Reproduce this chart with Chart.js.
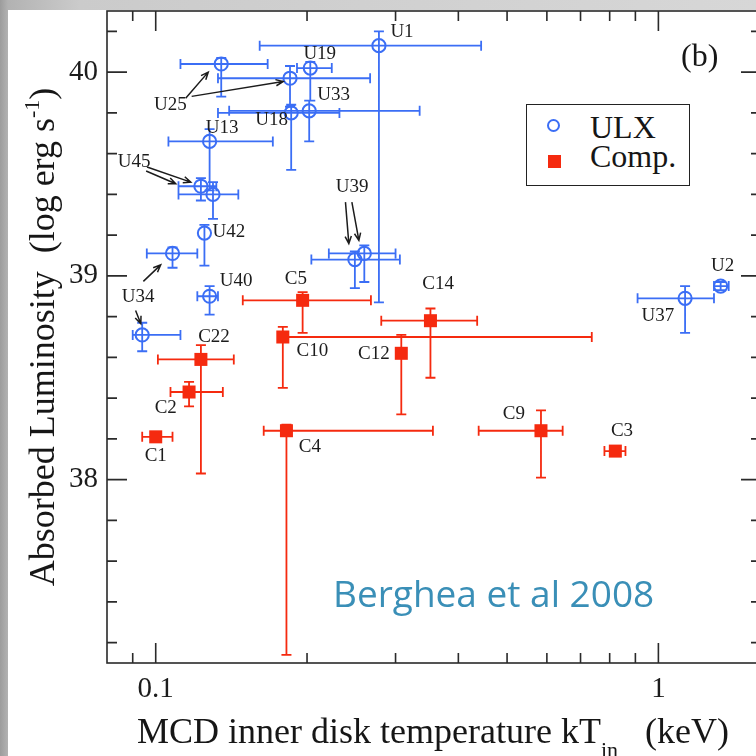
<!DOCTYPE html>
<html>
<head>
<meta charset="utf-8">
<script src="https://cdn.jsdelivr.net/npm/chart.js@4"></script>
<style>
html, body { margin:0; padding:0; width:756px; height:756px; overflow:hidden; }
body { position:relative; background:linear-gradient(90deg,#9c9c9c 0px,#b2b2b2 8px,#cbcbcb 80px,#d7d7d7 100%);
       font-family:"Liberation Serif","Times New Roman",serif; color:#161616; }
#paper { position:absolute; left:8px; top:10px; right:0; bottom:0; background:#fff; }
#wrap { position:absolute; left:0; top:0; width:780px; height:756px; }
.abs { position:absolute; white-space:nowrap; }
#ytitle { left:-258px; top:315px; width:600px; height:44px; line-height:44px; text-align:center;
          font-size:36px; transform:rotate(-90deg); }
#xtitle { left:137px; top:713px; line-height:36px; font-size:36px; }
#panel { left:681px; top:39px; line-height:32px; font-size:32px; }
#legend { left:526px; top:104px; width:164px; height:82px; box-sizing:border-box; border:1.5px solid #222; background:#fff; }
#legend .ring { position:absolute; left:20px; top:14px; width:13px; height:13px; box-sizing:border-box;
                border:2px solid #3b6ef5; border-radius:50%; }
#legend .sq { position:absolute; left:21px; top:50px; width:13px; height:13px; background:#f52a0f; }
#legend .t { position:absolute; left:63px; font-size:32px; line-height:32px; }
#cite { left:333px; top:573px; font-family:"Open Sans",sans-serif; font-size:37px; line-height:40px; color:#3a8fb7; }
</style>
</head>
<body>
<div id="paper"></div>
<div id="wrap"><canvas id="chart" width="780" height="756"></canvas></div>
<div id="ytitle" class="abs">Absorbed Luminosity&nbsp; (log erg s<span style="font-size:22px;position:relative;top:-15px">-1</span>)</div>
<div id="xtitle" class="abs">MCD inner disk temperature kT<span style="font-size:22px;position:relative;top:14px">in</span>&nbsp;&nbsp; (keV)</div>
<div id="panel" class="abs">(b)</div>
<div id="legend" class="abs">
  <span class="ring"></span><span class="t" style="top:6px">ULX</span>
  <span class="sq"></span><span class="t" style="top:35px">Comp.</span>
</div>
<div id="cite" class="abs">Berghea et al 2008</div>
<script>
// ULX sources: kT_in (keV) and log L with error limits
const ulxNames = ['U1','U19','U25a','U25b','U33','U18','U13','U45a','U45b','U42','U34a','U40','U34b','U39a','U39b','U37','U2'];
const ulxX   = [0.278, 0.203, 0.135, 0.185, 0.202, 0.186, 0.128, 0.123, 0.130, 0.125, 0.108, 0.128, 0.094, 0.249, 0.260, 1.13, 1.33];
const ulxXLo = [0.161, 0.191, 0.112, 0.133, 0.140, 0.133, 0.106, 0.111, 0.111, 0.125, 0.096, 0.121, 0.090, 0.204, 0.221, 0.909, 1.29];
const ulxXHi = [0.444, 0.224, 0.167, 0.267, 0.335, 0.232, 0.171, 0.132, 0.146, 0.125, 0.121, 0.133, 0.112, 0.306, 0.300, 1.29, 1.38];
const ulxY   = [40.13, 40.02, 40.04, 39.97, 39.81, 39.80, 39.66, 39.44, 39.40, 39.21, 39.11, 38.90, 38.71, 39.08, 39.11, 38.89, 38.95];
const ulxYLo = [38.87, 39.86, 39.88, 39.83, 39.66, 39.52, 39.42, 39.37, 39.28, 39.05, 39.04, 38.81, 38.63, 38.94, 38.97, 38.72, 38.93];
const ulxYHi = [40.20, 40.05, 40.07, 40.03, 39.86, 39.84, 39.72, 39.48, 39.46, 39.25, 39.14, 38.95, 38.77, 39.12, 39.15, 38.95, 38.97];

// comparison sources
const compNames = ['C1','C2','C22','C5','C10','C12','C14','C4','C9','C3'];
const compX   = [0.100, 0.1165, 0.123, 0.196, 0.179, 0.308, 0.352, 0.182, 0.584, 0.821];
const compXLo = [0.094, 0.107, 0.101, 0.149, 0.176, 0.308, 0.281, 0.164, 0.439, 0.781];
const compXHi = [0.108, 0.136, 0.143, 0.268, 0.737, 0.308, 0.436, 0.356, 0.645, 0.860];
const compY   = [38.21, 38.43, 38.59, 38.88, 38.70, 38.62, 38.78, 38.24, 38.24, 38.14];
const compYLo = [38.21, 38.36, 38.03, 38.72, 38.45, 38.32, 38.50, 37.14, 38.01, 38.12];
const compYHi = [38.21, 38.48, 38.66, 38.92, 38.75, 38.71, 38.84, 38.27, 38.34, 38.16];

// axes
const xTickLabels = [0.1, 1];
const xMinorTicks = [0.09, 0.2, 0.3, 0.4, 0.5, 0.6, 0.7, 0.8, 0.9];
const yTickLabels = [38, 39, 40];
const yMinorTicks = [37.2, 37.4, 37.6, 37.8, 38.2, 38.4, 38.6, 38.8, 39.2, 39.4, 39.6, 39.8, 40.2];

// source labels, placed in data units
const labelText = ['U1','U19','U25','U33','U18','U13','U45','U42','U34','U40','U39','U37','U2',
                   'C5','C10','C12','C14','C4','C9','C3','C22','C2','C1'];
const labelX = [0.309, 0.212, 0.107, 0.226, 0.170, 0.1356, 0.0906, 0.1398, 0.0923, 0.1446, 0.246, 0.998, 1.342,
                0.190, 0.205, 0.2716, 0.3646, 0.2026, 0.5157, 0.8464, 0.1306, 0.1047, 0.100];
const labelY = [40.195, 40.09, 39.84, 39.886, 39.763, 39.725, 39.558, 39.215, 38.895, 38.977, 39.435, 38.801, 39.046,
                38.986, 38.63, 38.618, 38.958, 38.159, 38.323, 38.241, 38.699, 38.352, 38.118];

// arrows from labels to sources
const arrowFromX = [0.1147, 0.1179, 0.0961, 0.0957, 0.0945, 0.0912, 0.2385, 0.2456];
const arrowFromY = [39.872, 39.881, 39.534, 39.515, 38.973, 38.830, 39.362, 39.362];
const arrowToX   = [0.1272, 0.1793, 0.1174, 0.1096, 0.1023, 0.0934, 0.2422, 0.2536];
const arrowToY   = [40.000, 39.954, 39.460, 39.452, 39.054, 38.765, 39.158, 39.174];

const BLUE = '#3b6ef5', RED = '#f52a0f', INK = '#1c1c1c';

const errorBars = {
  id: 'errorBars',
  beforeDatasetsDraw(chart) {
    const { ctx, scales: { x, y } } = chart;
    const cap = 5;
    chart.data.datasets.forEach(ds => {
      const e = ds.errors;
      ctx.save();
      ctx.strokeStyle = ds.borderColor;
      ctx.lineWidth = 1.8;
      ctx.beginPath();
      ds.data.forEach((p, i) => {
        const px = x.getPixelForValue(p.x), py = y.getPixelForValue(p.y);
        const x0 = x.getPixelForValue(e.xLo[i]), x1 = x.getPixelForValue(e.xHi[i]);
        const y0 = y.getPixelForValue(e.yLo[i]), y1 = y.getPixelForValue(e.yHi[i]);
        if (Math.abs(px - x0) > 0.5) { ctx.moveTo(x0, py); ctx.lineTo(px, py); ctx.moveTo(x0, py - cap); ctx.lineTo(x0, py + cap); }
        if (Math.abs(x1 - px) > 0.5) { ctx.moveTo(px, py); ctx.lineTo(x1, py); ctx.moveTo(x1, py - cap); ctx.lineTo(x1, py + cap); }
        if (Math.abs(y0 - py) > 0.5) { ctx.moveTo(px, py); ctx.lineTo(px, y0); ctx.moveTo(px - cap, y0); ctx.lineTo(px + cap, y0); }
        if (Math.abs(py - y1) > 0.5) { ctx.moveTo(px, py); ctx.lineTo(px, y1); ctx.moveTo(px - cap, y1); ctx.lineTo(px + cap, y1); }
      });
      ctx.stroke();
      ctx.restore();
    });
  }
};

const frameAndNotes = {
  id: 'frameAndNotes',
  afterDraw(chart) {
    const { ctx, chartArea: a, scales: { x, y } } = chart;
    ctx.save();
    ctx.strokeStyle = '#2a2a2a';
    ctx.lineWidth = 1.6;
    ctx.strokeRect(a.left, a.top, a.right - a.left, a.bottom - a.top);
    ctx.beginPath();
    const tickY = (v, len) => { const py = y.getPixelForValue(v);
      ctx.moveTo(a.left, py); ctx.lineTo(a.left + len, py); ctx.moveTo(a.right, py); ctx.lineTo(a.right - len, py); };
    const tickX = (v, len) => { const px = x.getPixelForValue(v);
      ctx.moveTo(px, a.bottom); ctx.lineTo(px, a.bottom - len); ctx.moveTo(px, a.top); ctx.lineTo(px, a.top + len); };
    yTickLabels.forEach(v => tickY(v, 20));
    yMinorTicks.forEach(v => tickY(v, 10));
    xTickLabels.forEach(v => tickX(v, 20));
    xMinorTicks.forEach(v => tickX(v, 10));
    ctx.stroke();

    // arrows
    ctx.strokeStyle = INK;
    ctx.lineWidth = 1.5;
    arrowFromX.forEach((fx, i) => {
      const x0 = x.getPixelForValue(fx), y0 = y.getPixelForValue(arrowFromY[i]);
      const x1 = x.getPixelForValue(arrowToX[i]), y1 = y.getPixelForValue(arrowToY[i]);
      const ang = Math.atan2(y1 - y0, x1 - x0), h = 8;
      ctx.beginPath();
      ctx.moveTo(x0, y0); ctx.lineTo(x1, y1);
      ctx.moveTo(x1 - h * Math.cos(ang - 0.4), y1 - h * Math.sin(ang - 0.4));
      ctx.lineTo(x1, y1);
      ctx.lineTo(x1 - h * Math.cos(ang + 0.4), y1 - h * Math.sin(ang + 0.4));
      ctx.stroke();
    });

    // source names
    ctx.fillStyle = INK;
    ctx.font = '19px "Liberation Serif", serif';
    ctx.textAlign = 'center';
    ctx.textBaseline = 'middle';
    labelText.forEach((t, i) => ctx.fillText(t, x.getPixelForValue(labelX[i]), y.getPixelForValue(labelY[i])));
    ctx.restore();
  }
};

const pts = (xs, ys) => xs.map((v, i) => ({ x: v, y: ys[i] }));

new Chart(document.getElementById('chart'), {
  type: 'scatter',
  data: {
    datasets: [
      { label: 'ULX', data: pts(ulxX, ulxY), pointStyle: 'circle', pointRadius: 6.6,
        borderColor: BLUE, backgroundColor: 'rgba(0,0,0,0)', borderWidth: 2,
        errors: { xLo: ulxXLo, xHi: ulxXHi, yLo: ulxYLo, yHi: ulxYHi } },
      { label: 'Comp.', data: pts(compX, compY), pointStyle: 'rect', pointRadius: 9.2,
        borderColor: RED, backgroundColor: RED, borderWidth: 0,
        errors: { xLo: compXLo, xHi: compXHi, yLo: compYLo, yHi: compYHi } }
    ]
  },
  options: {
    responsive: false,
    devicePixelRatio: 1,
    animation: false,
    events: [],
    layout: { padding: { top: 11, right: 19, left: 0, bottom: 0 } },
    plugins: { legend: { display: false }, tooltip: { enabled: false } },
    scales: {
      x: {
        type: 'logarithmic', min: 0.08, max: 1.6,
        grid: { display: false, drawTicks: false },
        border: { display: false },
        afterBuildTicks: s => { s.ticks = xTickLabels.map(v => ({ value: v })); },
        afterFit: s => { s.height = 93; s.paddingLeft = 0; s.paddingRight = 0; },
        ticks: { autoSkip: false, maxRotation: 0, padding: 9, color: INK,
                 font: { family: '"Liberation Serif", serif', size: 29 },
                 callback: v => String(v) }
      },
      y: {
        min: 37.1, max: 40.3,
        grid: { display: false, drawTicks: false },
        border: { display: false },
        afterBuildTicks: s => { s.ticks = yTickLabels.map(v => ({ value: v })); },
        afterFit: s => { s.width = 107; s.paddingTop = 0; s.paddingBottom = 0; },
        ticks: { padding: 9, color: INK,
                 font: { family: '"Liberation Serif", serif', size: 29 },
                 callback: v => String(v) }
      }
    }
  },
  plugins: [errorBars, frameAndNotes]
});
</script>
</body>
</html>
